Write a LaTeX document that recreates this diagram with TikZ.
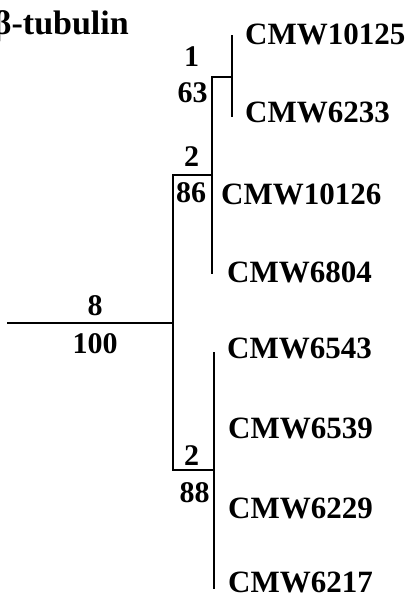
\documentclass[tikz,border=0pt]{standalone}
\usepackage{fontspec}
\setmainfont{Liberation Serif}
\begin{document}
\begin{tikzpicture}[x=1pt,y=-1pt,
  branch/.style={line width=2pt, line cap=rect},
  taxon/.style={font=\fontsize{31}{31}\selectfont\bfseries, anchor=base west, inner sep=0pt},
  support/.style={font=\fontsize{30}{30}\selectfont\bfseries, anchor=base, inner sep=0pt},
  titlestyle/.style={font=\fontsize{34}{34}\selectfont\bfseries, anchor=base east, inner sep=0pt}]
\useasboundingbox (0,0) rectangle (413,601);
\node[titlestyle] (title) at (129,35) {β-tubulin};
% tree points
\coordinate (r0) at (8,323);
\coordinate (r) at (173,323);
\coordinate (ntop) at (173,175);
\coordinate (nbot) at (173,470);
\coordinate (a) at (212,175);
\coordinate (atop) at (212,77);
\coordinate (abot) at (212,273);
\coordinate (b) at (232,77);
\coordinate (btop) at (232,36);
\coordinate (bbot) at (232,116);
\coordinate (c) at (214,470);
\coordinate (ctop) at (214,353);
\coordinate (cbot) at (214,588);
\draw[branch] (r0) -- (r);
\draw[branch] (ntop) -- (nbot);
\draw[branch] (ntop) -- (a);
\draw[branch] (atop) -- (abot);
\draw[branch] (atop) -- (b);
\draw[branch] (btop) -- (bbot);
\draw[branch] (nbot) -- (c);
\draw[branch] (ctop) -- (cbot);
% taxa
\node[taxon] (t1) at (245,45) {CMW10125};
\node[taxon] (t2) at (245,123) {CMW6233};
\node[taxon] (t3) at (221,205) {CMW10126};
\node[taxon] (t4) at (227,282) {CMW6804};
\node[taxon] (t5) at (227,358) {CMW6543};
\node[taxon] (t6) at (228,438) {CMW6539};
\node[taxon] (t7) at (228,518) {CMW6229};
\node[taxon] (t8) at (228,592) {CMW6217};
% support values
\node[support] (s1) at (191.5,67) {1};
\node[support] (s2) at (192.5,103) {63};
\node[support] (s3) at (191.5,167) {2};
\node[support] (s4) at (191,203) {86};
\node[support] (s5) at (191.5,465) {2};
\node[support] (s6) at (194.5,502) {88};
\node[support] (s7) at (95,315) {8};
\node[support] (s8) at (95,353) {100};
\end{tikzpicture}
\end{document}
